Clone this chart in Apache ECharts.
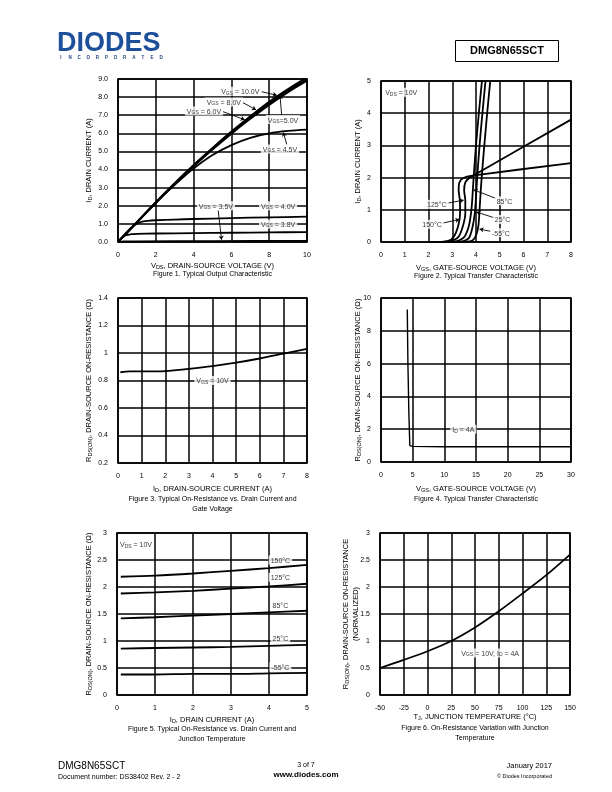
<!DOCTYPE html>
<html><head><meta charset="utf-8">
<script src="https://cdn.jsdelivr.net/npm/echarts@6/dist/echarts.min.js"></script>
<style>html,body{margin:0;padding:0;background:#fff}#c{width:612px;height:792px}</style>
</head><body><div id="c"></div><script>
// ---------------- DATA ----------------
// Figure 1: Output characteristic, ID vs VDS
const f1_vgs10 = [[0,0],[0.5,0.55],[1,1.1],[2,2.2],[3,3.25],[4,4.25],[5,5.2],[6,6.1],[7,6.95],[8,7.75],[9,8.45],[10,9.1]];
const f1_vgs8  = [[0,0],[0.5,0.55],[1,1.1],[2,2.19],[3,3.23],[4,4.22],[5,5.16],[6,6.05],[7,6.9],[8,7.7],[9,8.4],[10,9.05]];
const f1_vgs6  = [[0,0],[0.5,0.54],[1,1.09],[2,2.17],[3,3.21],[4,4.2],[5,5.13],[6,6.02],[7,6.85],[8,7.63],[9,8.33],[10,8.98]];
const f1_vgs5  = [[0,0],[0.5,0.54],[1,1.08],[2,2.16],[3,3.19],[4,4.17],[5,5.1],[6,5.98],[7,6.8],[8,7.57],[9,8.27],[10,8.9]];
const f1_vgs45 = [[0,0],[1,1.08],[2,2.15],[3,3.15],[4,4.05],[5,4.8],[6,5.35],[7,5.75],[8,6.0],[9,6.13],[10,6.2]];
const f1_vgs40 = [[0,0],[0.3,0.35],[0.6,0.7],[0.9,0.95],[1.2,1.1],[1.6,1.17],[2,1.2],[3,1.24],[4,1.27],[6,1.32],[8,1.36],[10,1.4]];
const f1_vgs38 = [[0,0],[0.2,0.22],[0.4,0.37],[0.7,0.43],[1,0.45],[2,0.47],[4,0.49],[6,0.51],[8,0.53],[10,0.55]];
const f1_vgs35 = [[0,0],[0.3,0.03],[1,0.04],[5,0.05],[10,0.06]];
// Figure 2: Transfer characteristic, ID vs VGS
const f2_m55 = [[2.3,0],[3.6,0.01],[3.85,0.05],[4.0,0.2],[4.1,0.5],[4.15,1.0],[4.2,1.6],[4.25,2.1],[4.35,3.0],[4.47,4.0],[4.6,5.0]];
const f2_25  = [[2.2,0],[3.4,0.02],[3.7,0.12],[3.85,0.45],[3.95,0.9],[4.0,1.4],[4.05,2.0],[4.15,3.0],[4.27,4.0],[4.4,5.0]];
const f2_85  = [[2.1,0],[3.2,0.03],[3.5,0.15],[3.7,0.5],[3.8,0.95],[3.85,1.4],[3.9,2.0],[4.0,3.0],[4.12,4.0],[4.25,5.0]];
const f2_125 = [[2.1,0],[2.9,0.03],[3.25,0.15],[3.45,0.5],[3.55,0.9],[3.55,1.3],[3.5,1.6],[3.55,1.85],[3.7,1.98],[3.85,2.05],[8,3.8]];
const f2_150 = [[2.0,0],[2.8,0.03],[3.05,0.15],[3.25,0.5],[3.33,0.9],[3.32,1.3],[3.27,1.6],[3.3,1.85],[3.45,1.98],[3.85,2.06],[8,2.45]];
// Figure 3: RDS(on) vs ID
const f3_r = [[0.1,0.86],[0.5,0.866],[1,0.867],[1.5,0.866],[2,0.868],[3,0.885],[4,0.905],[5,0.93],[6,0.96],[7,0.995],[8,1.03]];
// Figure 4: RDS(on) vs VGS
const f4_r = [[4.15,9.3],[4.25,6.0],[4.4,3.0],[4.55,1.0],[5,0.95],[10,0.93],[20,0.93],[30,0.93]];
// Figure 5: RDS(on) vs ID at temperatures
const f5_150 = [[0.1,2.19],[1,2.21],[2,2.25],[3,2.3],[4,2.35],[5,2.41]];
const f5_125 = [[0.1,1.88],[1,1.9],[2,1.93],[3,1.97],[4,2.01],[5,2.06]];
const f5_85  = [[0.1,1.42],[1,1.44],[2,1.47],[3,1.5],[4,1.53],[5,1.56]];
const f5_25  = [[0.1,0.86],[1,0.87],[2,0.88],[3,0.89],[4,0.91],[5,0.93]];
const f5_m55 = [[0.1,0.38],[1,0.38],[2,0.39],[3,0.39],[4,0.40],[5,0.41]];
// Figure 6: normalized RDS(on) vs TJ
const f6_r = [[-50,0.5],[-25,0.65],[0,0.81],[25,1.0],[50,1.25],[75,1.55],[100,1.88],[125,2.22],[150,2.6]];

// ---------------- STYLE / LAYOUT ----------------
const FONT = '"Liberation Sans", Arial, Helvetica, sans-serif';
const rich = {
  n: {fontSize: 7, fontFamily: FONT, color: '#000', lineHeight: 9, verticalAlign: 'bottom'},
  s: {fontSize: 5, fontFamily: FONT, color: '#000', lineHeight: 5, verticalAlign: 'bottom'},
  t: {fontSize: 7.5, fontFamily: FONT, color: '#000', lineHeight: 10, verticalAlign: 'bottom'},
  u: {fontSize: 5.5, fontFamily: FONT, color: '#000', lineHeight: 6, verticalAlign: 'bottom'}
};
const lab = (a, s, b) => `{n|${a}}{s|${s}}{n|${b}}`;
const ttl = (a, s, b) => `{t|${a}}{u|${s}}{t|${b}}`;

const charts = [
  {grid:{left:118,top:79,width:189,height:163}, x:{min:0,max:10,interval:2}, y:{min:0,max:9,interval:1,fmt:v=>v.toFixed(1)},
   xt:{y:265,t:ttl('V','DS',', DRAIN-SOURCE VOLTAGE (V)')}, yt:{x:88,t:ttl('I','D',', DRAIN CURRENT (A)')},
   cap:{y:274,t:['Figure 1. Typical Output Characteristic']},
   series:[f1_vgs10,f1_vgs8,f1_vgs6,f1_vgs5,f1_vgs45,f1_vgs40,f1_vgs38,f1_vgs35],
   ann:[
     {p:[6.47,8.33],t:lab('V','GS',' = 10.0V'),a:[[7.6,8.3],[8.4,8.1]]},
     {p:[5.6,7.73],t:lab('V','GS',' = 8.0V'),a:[[6.6,7.7],[7.3,7.3]]},
     {p:[4.55,7.24],t:lab('V','GS',' = 6.0V'),a:[[5.55,7.2],[6.7,6.75]]},
     {p:[8.73,6.76],t:lab('V','GS','=5.0V'),a:[[8.66,7.0],[8.57,8.1]]},
     {p:[8.57,5.14],t:lab('V','GS',' = 4.5V'),a:[[8.93,5.38],[8.75,6.05]]},
     {p:[5.18,2.0],t:lab('V','GS',' = 3.5V'),a:[[5.3,1.75],[5.48,0.12]]},
     {p:[8.47,2.0],t:lab('V','GS',' = 4.0V')},
     {p:[8.47,1.0],t:lab('V','GS',' = 3.8V')}
   ]},
  {grid:{left:381,top:81,width:190,height:161}, x:{min:0,max:8,interval:1}, y:{min:0,max:5,interval:1},
   xt:{y:267,t:ttl('V','GS',', GATE-SOURCE VOLTAGE (V)')}, yt:{x:357,t:ttl('I','D',', DRAIN CURRENT (A)')},
   cap:{y:276,t:['Figure 2. Typical Transfer Characteristic']},
   series:[f2_m55,f2_25,f2_85,f2_125,f2_150], smooth:0.25,
   ann:[
     {p:[0.85,4.65],t:lab('V','DS',' = 10V')},
     {p:[2.35,1.17],t:'{n|125°C}',a:[[2.75,1.2],[3.48,1.3]]},
     {p:[2.15,0.55],t:'{n|150°C}',a:[[2.55,0.58],[3.3,0.7]]},
     {p:[5.2,1.28],t:'{n|85°C}',a:[[4.85,1.35],[3.9,1.62]]},
     {p:[5.12,0.7],t:'{n|25°C}',a:[[4.78,0.75],[4.02,0.93]]},
     {p:[5.05,0.29],t:'{n|-55°C}',a:[[4.63,0.33],[4.15,0.4]]}
   ]},
  {grid:{left:118,top:298,width:189,height:165}, x:{min:0,max:8,interval:1}, y:{min:0.2,max:1.4,interval:0.2},
   xt:{y:488,t:ttl('I','D',', DRAIN-SOURCE CURRENT (A)')}, yt:{x:88,t:ttl('R','DS(ON)',', DRAIN-SOURCE ON-RESISTANCE (Ω)')},
   cap:{y:499,t:['Figure 3. Typical On-Resistance vs. Drain Current and','Gate Voltage']},
   series:[f3_r], smooth:0.3,
   ann:[{p:[4.0,0.8],t:lab('V','GS',' = 10V')}]},
  {grid:{left:381,top:298,width:190,height:164}, x:{min:0,max:30,interval:5}, y:{min:0,max:10,interval:2},
   xt:{y:488,t:ttl('V','GS',', GATE-SOURCE VOLTAGE (V)')}, yt:{x:357,t:ttl('R','DS(ON)',', DRAIN-SOURCE ON-RESISTANCE (Ω)')},
   cap:{y:499,t:['Figure 4. Typical Transfer Characteristic']},
   series:[f4_r], smooth:0, width:1.4,
   ann:[{p:[13,2],t:lab('I','D',' = 4A')}]},
  {grid:{left:117,top:533,width:190,height:162}, x:{min:0,max:5,interval:1}, y:{min:0,max:3,interval:0.5},
   xt:{y:719,t:ttl('I','D',', DRAIN CURRENT (A)')}, yt:{x:88,t:ttl('R','DS(ON)',', DRAIN-SOURCE ON-RESISTANCE (Ω)')},
   cap:{y:729,t:['Figure 5. Typical On-Resistance vs. Drain Current and','Junction Temperature']},
   series:[f5_150,f5_125,f5_85,f5_25,f5_m55], smooth:0.3,
   ann:[
     {p:[0.5,2.79],t:lab('V','DS',' = 10V')},
     {p:[4.3,2.5],t:'{n|150°C}'},
     {p:[4.3,2.18],t:'{n|125°C}'},
     {p:[4.3,1.66],t:'{n|85°C}'},
     {p:[4.3,1.05],t:'{n|25°C}'},
     {p:[4.3,0.52],t:'{n|-55°C}'}
   ]},
  {grid:{left:380,top:533,width:190,height:162}, x:{min:-50,max:150,interval:25}, y:{min:0,max:3,interval:0.5},
   xt:{y:716,t:ttl('T','J',', JUNCTION TEMPERATURE (°C)')}, yt:{x:350,t:ttl('R','DS(ON)',', DRAIN-SOURCE ON-RESISTANCE')+'\n{t|(NORMALIZED)}'},
   cap:{y:728,t:['Figure 6. On-Resistance Variation with Junction','Temperature']},
   series:[f6_r], smooth:0.3,
   ann:[{p:[66,0.78],t:lab('V','GS',' = 10V, I')+'{s|D}{n| = 4A}'}]}
];

// ---------------- BUILD OPTION ----------------
const grid = [], xAxis = [], yAxis = [], series = [], graphic = [];
charts.forEach((c, i) => {
  grid.push(Object.assign({show:true, borderColor:'#000', borderWidth:1.6, backgroundColor:'transparent', containLabel:false}, c.grid));
  const axisCommon = {
    type:'value', gridIndex:i, axisLine:{show:false}, axisTick:{show:false},
    splitLine:{show:true, lineStyle:{color:'#000', width:1.5}}
  };
  xAxis.push(Object.assign({}, axisCommon, {min:c.x.min, max:c.x.max, interval:c.x.interval,
    axisLabel:{fontSize:7, fontFamily:FONT, color:'#000', margin:10, formatter:c.x.fmt}}));
  yAxis.push(Object.assign({}, axisCommon, {min:c.y.min, max:c.y.max, interval:c.y.interval,
    axisLabel:{fontSize:7, fontFamily:FONT, color:'#000', margin:10, formatter:c.y.fmt}}));
  c.series.forEach(d => series.push({
    type:'line', xAxisIndex:i, yAxisIndex:i, data:d, showSymbol:false, symbol:'none',
    smooth: c.smooth === undefined ? 0.3 : c.smooth, clip:true, z:2,
    lineStyle:{color:'#000', width:c.width || 1.8}, silent:true
  }));
  const leaders = c.ann.filter(a => a.a).map(a => ({coords:a.a}));
  if (leaders.length) series.push({
    type:'lines', coordinateSystem:'cartesian2d', xAxisIndex:i, yAxisIndex:i, data:leaders, z:3,
    symbol:['none','arrow'], symbolSize:4, lineStyle:{color:'#000', width:0.9, opacity:1, curveness:0}, silent:true
  });
  series.push({
    type:'scatter', xAxisIndex:i, yAxisIndex:i, symbolSize:0, z:5, silent:true,
    data:c.ann.map(a => ({value:a.p, t:a.t})),
    label:{show:true, position:'inside', formatter:p => p.data.t, rich:rich,
      backgroundColor:'#fff', padding:[0,2,0,2]}
  });
  const cx = c.grid.left + c.grid.width / 2, cy = c.grid.top + c.grid.height / 2;
  graphic.push({type:'text', x:cx, y:c.xt.y, style:{text:c.xt.t, rich:rich, align:'center', verticalAlign:'middle'}});
  graphic.push({type:'text', x:c.yt.x, y:cy, rotation:Math.PI/2,
    style:{text:c.yt.t, rich:rich, align:'center', verticalAlign:'middle'}});
  c.cap.t.forEach((t, k) => graphic.push({type:'text', x:cx, y:c.cap.y + k*10.5,
    style:{text:t, fontSize:7, fontFamily:FONT, fill:'#000', align:'center', verticalAlign:'middle'}}));
});

// header & footer
graphic.push({type:'text', x:57, y:44, style:{text:'DIODES', fontSize:27, fontWeight:'bold', fontFamily:FONT, fill:'#1d4f9a', verticalAlign:'middle'}});
'INCORPORATED'.split('').forEach((ch, k) => graphic.push({type:'text', x:61 + k*9.1, y:58,
  style:{text:ch, fontSize:4.5, fontWeight:'bold', fontFamily:FONT, fill:'#1d3f7a', align:'center', verticalAlign:'middle'}}));
graphic.push({type:'rect', shape:{x:455.5, y:40.5, width:103, height:21}, style:{fill:'none', stroke:'#000', lineWidth:1}});
graphic.push({type:'text', x:507, y:51, style:{text:'DMG8N65SCT', fontSize:11, fontWeight:'bold', fontFamily:FONT, fill:'#000', align:'center', verticalAlign:'middle'}});
graphic.push({type:'text', x:58, y:766, style:{text:'DMG8N65SCT', fontSize:10, fontFamily:FONT, fill:'#000', verticalAlign:'middle'}});
graphic.push({type:'text', x:58, y:777, style:{text:'Document number: DS38402 Rev. 2 - 2', fontSize:7, fontFamily:FONT, fill:'#000', verticalAlign:'middle'}});
graphic.push({type:'text', x:306, y:765, style:{text:'3 of 7', fontSize:7, fontFamily:FONT, fill:'#000', align:'center', verticalAlign:'middle'}});
graphic.push({type:'text', x:306, y:775, style:{text:'www.diodes.com', fontSize:8, fontWeight:'bold', fontFamily:FONT, fill:'#000', align:'center', verticalAlign:'middle'}});
graphic.push({type:'text', x:552, y:766, style:{text:'January 2017', fontSize:7.5, fontFamily:FONT, fill:'#000', align:'right', verticalAlign:'middle'}});
graphic.push({type:'text', x:552, y:776, style:{text:'© Diodes Incorporated', fontSize:5.5, fontFamily:FONT, fill:'#000', align:'right', verticalAlign:'middle'}});

const chart = echarts.init(document.getElementById('c'), null, {renderer:'canvas'});
chart.setOption({animation:false, backgroundColor:'#fff', grid, xAxis, yAxis, series, graphic});
</script></body></html>
